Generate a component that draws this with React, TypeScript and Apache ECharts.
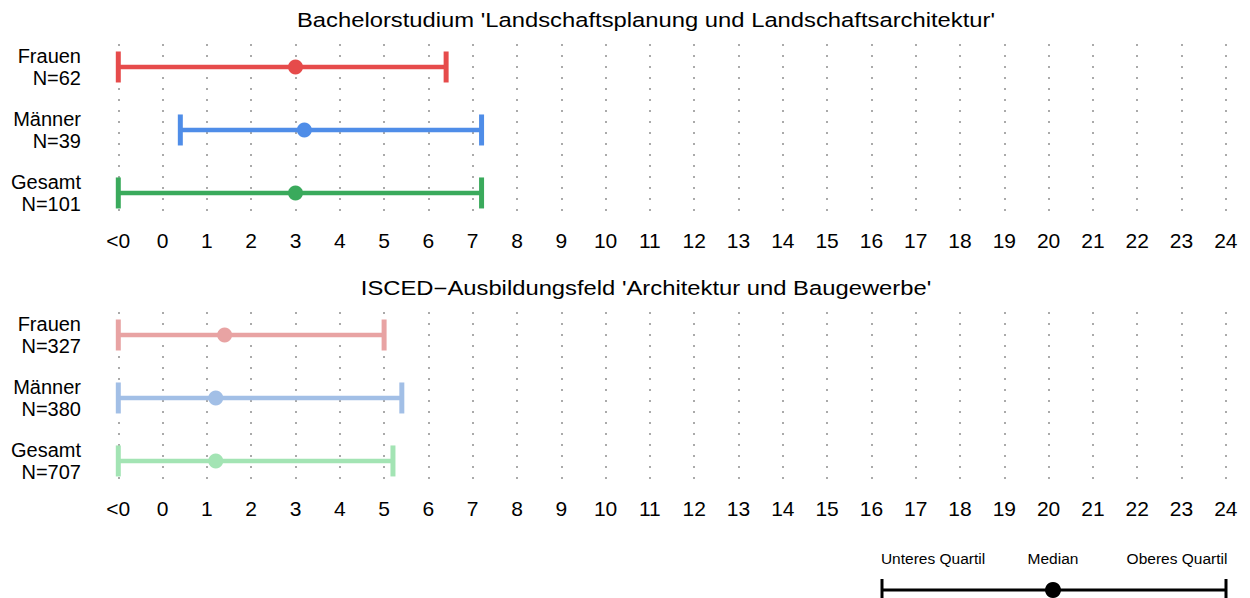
import React, { useEffect, useRef } from "react";
import * as echarts from "echarts";

const groups = ["Frauen", "Männer", "Gesamt"];
const countsTop = [62, 39, 101];
const countsBottom = [327, 380, 707];
// value -1 stands for "<0"
const lowerTop = [-1, 0.4, -1];
const medianTop = [3.0, 3.2, 3.0];
const upperTop = [6.4, 7.2, 7.2];
const lowerBottom = [-1, -1, -1];
const medianBottom = [1.4, 1.2, 1.2];
const upperBottom = [5.0, 5.4, 5.2];
const colorsTop = ["#E64B4B", "#4F8DE8", "#3AAA5C"];
const colorsBottom = ["#E8A3A3", "#A2BFE6", "#A3E4B4"];
const titleTop = "Bachelorstudium 'Landschaftsplanung und Landschaftsarchitektur'";
const titleBottom = "ISCED\u2212Ausbildungsfeld 'Architektur und Baugewerbe'";
const legendLabels = ["Unteres Quartil", "Median", "Oberes Quartil"];

const FONT = "'Liberation Sans', Arial, Helvetica, sans-serif";

function buildData(lo: number[], med: number[], hi: number[], counts: number[], colors: string[]) {
  return groups.map((g, i) => ({
    value: [lo[i], med[i], hi[i], i],
    label: `${g}\nN=${counts[i]}`,
    color: colors[i],
  }));
}

export default function App() {
  const ref = useRef<HTMLDivElement>(null);
  useEffect(() => {
    if (!ref.current) return;
    const chart = echarts.init(ref.current, undefined, { renderer: "svg" });
    const dataTop = buildData(lowerTop, medianTop, upperTop, countsTop, colorsTop);
    const dataBottom = buildData(lowerBottom, medianBottom, upperBottom, countsBottom, colorsBottom);

    const renderItem = (data: any[]) => (params: any, api: any) => {
      const item = data[params.dataIndex];
      const y = api.value(3);
      const lo = api.coord([api.value(0), y]);
      const med = api.coord([api.value(1), y]);
      const hi = api.coord([api.value(2), y]);
      const c = item.color;
      return {
        type: "group",
        children: [
          { type: "line", shape: { x1: lo[0], y1: lo[1], x2: hi[0], y2: hi[1] }, style: { stroke: c, lineWidth: 4.5 } },
          { type: "line", shape: { x1: lo[0], y1: lo[1] - 15.5, x2: lo[0], y2: lo[1] + 15.5 }, style: { stroke: c, lineWidth: 5 } },
          { type: "line", shape: { x1: hi[0], y1: hi[1] - 15.5, x2: hi[0], y2: hi[1] + 15.5 }, style: { stroke: c, lineWidth: 5 } },
          { type: "circle", shape: { cx: med[0], cy: med[1], r: 7.5 }, style: { fill: c } },
          {
            type: "text",
            x: 81,
            y: lo[1],
            style: {
              text: item.label,
              align: "right",
              verticalAlign: "middle",
              fontSize: 20,
              lineHeight: 21.5,
              fontFamily: FONT,
              fill: "#000",
            },
          },
        ],
      };
    };

    const xAxisBase = (gridIndex: number) => ({
      type: "value",
      gridIndex,
      min: -1,
      max: 24,
      interval: 1,
      axisLine: { show: false },
      axisTick: { show: false },
      axisLabel: {
        formatter: (v: number) => (v === -1 ? "<0" : String(v)),
        fontSize: 21,
        color: "#000",
        fontFamily: FONT,
        margin: 15,
      },
      splitLine: { show: true, lineStyle: { color: "#AAAAAA", width: 2, type: [2, 9] } },
    });
    const yAxisBase = (gridIndex: number) => ({
      type: "value",
      gridIndex,
      inverse: true,
      min: -0.365,
      max: 2.35,
      show: false,
      splitLine: { show: false },
    });

    const titleText = (text: string, y: number) => ({
      type: "text",
      x: 646,
      y,
      scaleX: 1.22,
      style: {
        text,
        align: "center",
        verticalAlign: "middle",
        fontSize: 19.5,
        fontFamily: FONT,
        fill: "#000",
      },
    });
    const legendText = (text: string, x: number) => ({
      type: "text",
      x,
      y: 558,
      style: { text, align: "center", verticalAlign: "middle", fontSize: 15.5, fontFamily: FONT, fill: "#000" },
    });

    chart.setOption({
      animation: false,
      grid: [
        { left: 118.3, right: 24.2, top: 44, height: 171 },
        { left: 118.3, right: 24.2, top: 312, height: 171 },
      ],
      xAxis: [xAxisBase(0), xAxisBase(1)],
      yAxis: [yAxisBase(0), yAxisBase(1)],
      series: [
        {
          type: "custom",
          xAxisIndex: 0,
          yAxisIndex: 0,
          data: dataTop.map((d) => d.value),
          encode: { x: [0, 1, 2], y: 3 },
          renderItem: renderItem(dataTop),
          clip: false,
        },
        {
          type: "custom",
          xAxisIndex: 1,
          yAxisIndex: 1,
          data: dataBottom.map((d) => d.value),
          encode: { x: [0, 1, 2], y: 3 },
          renderItem: renderItem(dataBottom),
          clip: false,
        },
      ],
      graphic: [
        titleText(titleTop, 20),
        titleText(titleBottom, 288),
        { type: "line", shape: { x1: 882, y1: 590, x2: 1226, y2: 590 }, style: { stroke: "#000", lineWidth: 3 } },
        { type: "line", shape: { x1: 882, y1: 579, x2: 882, y2: 601 }, style: { stroke: "#000", lineWidth: 3 } },
        { type: "line", shape: { x1: 1226, y1: 579, x2: 1226, y2: 601 }, style: { stroke: "#000", lineWidth: 3 } },
        { type: "circle", shape: { cx: 1053, cy: 590, r: 8 }, style: { fill: "#000" } },
        legendText(legendLabels[0], 933),
        legendText(legendLabels[1], 1053),
        legendText(legendLabels[2], 1177),
      ],
    });
    return () => chart.dispose();
  }, []);
  return (
    <div
      ref={ref}
      style={{ position: "fixed", left: 0, top: 0, width: 1250, height: 598, background: "#fff" }}
    />
  );
}
